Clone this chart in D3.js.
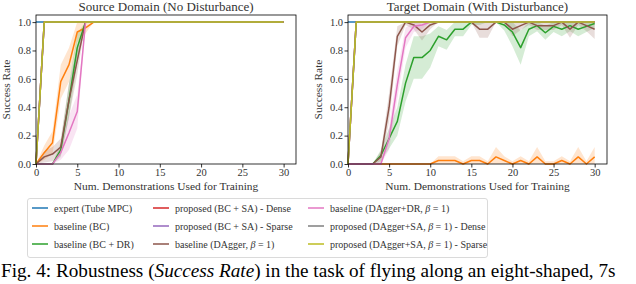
<!DOCTYPE html>
<html>
<head>
<meta charset="utf-8">
<script src="https://cdn.jsdelivr.net/npm/d3@7"></script>
<style>
    body { margin: 0; background: #fff; }
    svg { display: block; }
    text { font-family: "Liberation Serif", "Times New Roman", serif; fill: #333; }
</style>
</head>
<body>
<div id="chart"></div>
<script>
// demonstrations used for training (x values)
const demos = [0,1,2,3,4,5,6,7,8,9,10,11,12,13,14,15,16,17,18,19,20,21,22,23,24,25,26,27,28,29,30]
const xTicks = [0, 5, 10, 15, 20, 25, 30]
const yTicks = [0, 0.2, 0.4, 0.6, 0.8, 1.0]

const seriesNames = [
    "expert (Tube MPC)",
    "baseline (BC)",
    "baseline (BC + DR)",
    "proposed (BC + SA) - Dense",
    "proposed (BC + SA) - Sparse",
    "baseline (DAgger, β = 1)",
    "baseline (DAgger+DR, β = 1)",
    "proposed (DAgger+SA, β = 1) - Dense",
    "proposed (DAgger+SA, β = 1) - Sparse"
]
const seriesColors = ["#1f77b4", "#ff7f0e", "#2ca02c", "#d62728", "#9467bd", "#8c564b", "#e377c2", "#7f7f7f", "#bcbd22"]

// source domain (no disturbance): mean success rate
const srcExpert   = [1,1,1,1,1,1,1,1,1,1,1,1,1,1,1,1,1,1,1,1,1,1,1,1,1,1,1,1,1,1,1]
const srcBC       = [0,.08,.15,.58,.70,.93,.96,1,1,1,1,1,1,1,1,1,1,1,1,1,1,1,1,1,1,1,1,1,1,1,1]
const srcBCDR     = [0,0,0,.10,.45,.82,1,1,1,1,1,1,1,1,1,1,1,1,1,1,1,1,1,1,1,1,1,1,1,1,1]
const srcSADense  = [0,1,1,1,1,1,1,1,1,1,1,1,1,1,1,1,1,1,1,1,1,1,1,1,1,1,1,1,1,1,1]
const srcSASparse = [0,1,1,1,1,1,1,1,1,1,1,1,1,1,1,1,1,1,1,1,1,1,1,1,1,1,1,1,1,1,1]
const srcDAgger   = [0,.05,.07,.12,.45,.73,1,1,1,1,1,1,1,1,1,1,1,1,1,1,1,1,1,1,1,1,1,1,1,1,1]
const srcDAggerDR = [0,0,0,.08,.22,.37,1,1,1,1,1,1,1,1,1,1,1,1,1,1,1,1,1,1,1,1,1,1,1,1,1]
const srcDASADense  = [0,1,1,1,1,1,1,1,1,1,1,1,1,1,1,1,1,1,1,1,1,1,1,1,1,1,1,1,1,1,1]
const srcDASASparse = [0,1,1,1,1,1,1,1,1,1,1,1,1,1,1,1,1,1,1,1,1,1,1,1,1,1,1,1,1,1,1]

// source domain: std (shaded band)
const srcBCStd       = [0,.05,.08,.12,.12,.07,.04,0,0,0,0,0,0,0,0,0,0,0,0,0,0,0,0,0,0,0,0,0,0,0,0]
const srcBCDRStd     = [0,0,0,.05,.12,.10,0,0,0,0,0,0,0,0,0,0,0,0,0,0,0,0,0,0,0,0,0,0,0,0,0]
const srcDAggerStd   = [0,.04,.05,.06,.12,.10,0,0,0,0,0,0,0,0,0,0,0,0,0,0,0,0,0,0,0,0,0,0,0,0,0]
const srcDAggerDRStd = [0,0,0,.05,.12,.12,0,0,0,0,0,0,0,0,0,0,0,0,0,0,0,0,0,0,0,0,0,0,0,0,0]

// target domain (with disturbance): mean success rate
const tgtExpert   = [1,1,1,1,1,1,1,1,1,1,1,1,1,1,1,1,1,1,1,1,1,1,1,1,1,1,1,1,1,1,1]
const tgtBC       = [0,0,0,0,0,0,0,0,0,0,0,.025,.025,.025,0,.025,.025,0,.05,.025,0,.025,0,.05,0,0,.025,0,.05,0,.05]
const tgtBCDR     = [0,0,0,0,.06,.18,.30,.57,.75,.75,.80,.90,.875,.95,.95,1,1,1,1,.98,.93,.82,.95,.975,.925,.97,.95,.975,.95,.97,.99]
const tgtSADense  = [0,1,1,1,1,1,1,1,1,1,1,1,1,1,1,1,1,1,1,1,1,1,1,1,1,1,1,1,1,1,1]
const tgtSASparse = [0,1,1,1,1,1,1,1,1,1,1,1,1,1,1,1,1,1,1,1,1,1,1,1,1,1,1,1,1,1,1]
const tgtDAgger   = [0,0,0,0,.05,.40,.90,1,.98,.93,.98,1,1,1,1,1,.95,.95,1,1,.95,.975,1,.975,.975,.975,1,.95,1,.975,.95]
const tgtDAggerDR = [0,0,0,0,0,.18,.56,.89,.97,.98,1,1,1,1,1,1,1,1,1,1,1,1,1,1,1,1,1,1,1,1,1]
const tgtDASADense  = [0,1,1,1,1,1,1,1,1,1,1,1,1,1,1,1,1,1,1,1,1,1,1,1,1,1,1,1,1,1,1]
const tgtDASASparse = [0,1,1,1,1,1,1,1,1,1,1,1,1,1,1,1,1,1,1,1,1,1,1,1,1,1,1,1,1,1,1]

// target domain: std (shaded band)
const tgtBCStd       = [0,0,0,0,0,0,0,0,0,0,0,.03,.03,.03,.02,.03,.03,.02,.07,.03,.02,.03,.02,.07,.02,.02,.03,.02,.07,.02,.07]
const tgtBCDRStd     = [0,0,0,0,.04,.07,.10,.13,.15,.15,.12,.07,.07,.05,.05,.02,.02,0,0,.04,.10,.12,.05,.04,.05,.04,.05,.04,.05,.04,.03]
const tgtDAggerStd   = [0,0,0,0,.04,.10,.07,.02,.03,.06,.03,0,0,0,0,0,.06,.06,0,0,.05,.03,.02,.03,.03,.03,.02,.06,.02,.04,.07]
const tgtDAggerDRStd = [0,0,0,0,.02,.08,.10,.07,.04,.03,0,0,0,0,0,0,0,0,0,0,0,0,0,0,0,0,0,0,0,0,0]

const zeros = demos.map(() => 0)

const panels = [
    {
        title: "Source Domain (No Disturbance)",
        left: 36, right: 296,
        means: [srcExpert, srcBC, srcBCDR, srcSADense, srcSASparse, srcDAgger, srcDAggerDR, srcDASADense, srcDASASparse],
        stds: [zeros, srcBCStd, srcBCDRStd, zeros, zeros, srcDAggerStd, srcDAggerDRStd, zeros, zeros]
    },
    {
        title: "Target Domain (With Disturbance)",
        left: 348, right: 607,
        means: [tgtExpert, tgtBC, tgtBCDR, tgtSADense, tgtSASparse, tgtDAgger, tgtDAggerDR, tgtDASADense, tgtDASASparse],
        stds: [zeros, tgtBCStd, tgtBCDRStd, zeros, zeros, tgtDAggerStd, tgtDAggerDRStd, zeros, zeros]
    }
]

const W = 636, H = 284
const plotTop = 15, plotBottom = 164
const serif = "Liberation Serif, Times New Roman, serif"

const svg = d3.select("#chart").append("svg")
    .attr("width", W)
    .attr("height", H)

svg.append("rect").attr("width", W).attr("height", H).attr("fill", "#fff")

const y = d3.scaleLinear().domain([0, 1.05]).range([plotBottom, plotTop])

panels.forEach(p => {
    const x = d3.scaleLinear().domain([0, 31.5]).range([p.left, p.right])
    const g = svg.append("g").attr("font-family", serif)

    const area = d3.area()
        .x((d, i) => x(demos[i]))
        .y0(d => y(Math.max(0, d[0] - d[1])))
        .y1(d => y(Math.min(1, d[0] + d[1])))
    const line = d3.line()
        .x((d, i) => x(demos[i]))
        .y(d => y(d))

    // shaded std bands
    p.means.forEach((m, k) => {
        const s = p.stds[k]
        if (!s.some(v => v > 0)) return
        g.append("path")
            .datum(m.map((v, i) => [v, s[i]]))
            .attr("d", area)
            .attr("fill", seriesColors[k])
            .attr("fill-opacity", 0.2)
    })

    // mean lines
    p.means.forEach((m, k) => {
        g.append("path")
            .datum(m)
            .attr("d", line)
            .attr("fill", "none")
            .attr("stroke", seriesColors[k])
            .attr("stroke-width", 1.5)
            .attr("stroke-linejoin", "round")
    })

    // axes
    const xAxis = g.append("g")
        .attr("transform", `translate(0,${plotBottom})`)
        .call(d3.axisBottom(x).tickValues(xTicks).tickSize(3.5).tickSizeOuter(0).tickFormat(d3.format("d")))
    const yAxis = g.append("g")
        .attr("transform", `translate(${p.left},0)`)
        .call(d3.axisLeft(y).tickValues(yTicks).tickSize(3.5).tickSizeOuter(0).tickFormat(d3.format(".1f")))

    ;[xAxis, yAxis].forEach(a => {
        a.attr("font-family", serif)
        a.select(".domain").remove()
        a.selectAll("line").attr("stroke", "#000").attr("stroke-width", 0.8)
        a.selectAll("text")
            .attr("font-family", serif)
            .attr("font-size", 10.5)
            .attr("fill", "#333")
    })
    xAxis.selectAll("text").attr("y", 5).attr("dy", "0.71em")
    yAxis.selectAll("text").attr("x", -5)

    // frame
    g.append("rect")
        .attr("x", p.left).attr("y", plotTop)
        .attr("width", p.right - p.left).attr("height", plotBottom - plotTop)
        .attr("fill", "none")
        .attr("stroke", "#000")
        .attr("stroke-width", 0.8)

    // title
    g.append("text")
        .attr("x", (p.left + p.right) / 2).attr("y", 11)
        .attr("text-anchor", "middle")
        .attr("font-size", 13)
        .text(p.title)

    // axis labels
    g.append("text")
        .attr("x", (p.left + p.right) / 2).attr("y", 190)
        .attr("text-anchor", "middle")
        .attr("font-size", 11.4)
        .text("Num. Demonstrations Used for Training")

    g.append("text")
        .attr("transform", `translate(${p.left - 26},${(plotTop + plotBottom) / 2}) rotate(-90)`)
        .attr("text-anchor", "middle")
        .attr("font-size", 11.4)
        .text("Success Rate")
})

// legend
const legend = svg.append("g").attr("font-family", serif)
legend.append("rect")
    .attr("x", 27.5).attr("y", 198.5)
    .attr("width", 460).attr("height", 59)
    .attr("rx", 2.5)
    .attr("fill", "#fff")
    .attr("stroke", "#d0d0d0")
    .attr("stroke-width", 0.8)

const colX = [32, 153, 308]
const rowY = [208, 226, 244]

seriesNames.forEach((name, k) => {
    const cx = colX[Math.floor(k / 3)]
    const cy = rowY[k % 3]
    legend.append("line")
        .attr("x1", cx).attr("x2", cx + 16)
        .attr("y1", cy).attr("y2", cy)
        .attr("stroke", seriesColors[k])
        .attr("stroke-width", 1.5)
    const t = legend.append("text")
        .attr("x", cx + 22).attr("y", cy + 3.5)
        .attr("font-size", 10)
    const parts = name.split("β")
    t.append("tspan").text(parts[0])
    if (parts.length > 1) {
        t.append("tspan").attr("font-style", "italic").text("β")
        t.append("tspan").text(parts[1])
    }
})

// caption
const cap = svg.append("text")
    .attr("x", 1).attr("y", 277)
    .attr("font-family", serif)
    .attr("font-size", 19.2)
    .style("fill", "#000")
cap.append("tspan").text("Fig. 4: Robustness (")
cap.append("tspan").attr("font-style", "italic").text("Success Rate")
cap.append("tspan").text(") in the task of flying along an eight-shaped, 7s")
</script>
</body>
</html>
